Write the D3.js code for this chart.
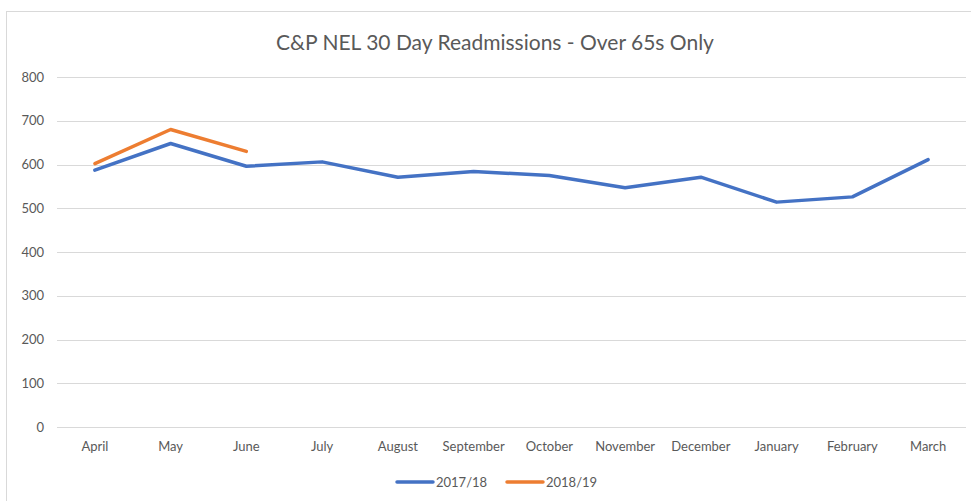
<!DOCTYPE html>
<html>
<head>
<meta charset="utf-8">
<script src="https://cdn.jsdelivr.net/npm/d3@7"></script>
<style>
  body { margin: 0; background: #fff; }
  text { font-family: Lato, "Open Sans", sans-serif; fill: #595959; }
</style>
</head>
<body>
<div id="chart-area"></div>
<script>
var months = ["April", "May", "June", "July", "August", "September", "October",
    "November", "December", "January", "February", "March"];
var series1718 = [587, 648, 596, 606, 571, 584, 575, 547, 571, 514, 526, 611];
var series1819 = [602, 680, 630];
var yTicks = [0, 100, 200, 300, 400, 500, 600, 700, 800];
var seriesNames = ["2017/18", "2018/19"];
var colors = ["#4472C4", "#ED7D31"];

var W = 971, H = 501;
var margin = { left: 57, right: 5, top: 77, bottom: 74 };
var width = W - margin.left - margin.right;
var height = H - margin.top - margin.bottom;

var svg = d3.select("#chart-area")
    .append("svg")
    .attr("width", W)
    .attr("height", H);

// chart border
svg.append("rect")
    .attr("x", 6.5)
    .attr("y", 11.5)
    .attr("width", W)
    .attr("height", H)
    .attr("fill", "none")
    .attr("stroke", "#d9d9d9")
    .attr("stroke-width", 1);

svg.append("text")
    .attr("x", 495)
    .attr("y", 50)
    .attr("text-anchor", "middle")
    .attr("font-size", "21px")
    .text("C&P NEL 30 Day Readmissions - Over 65s Only");

var group = svg.append("g")
    .attr("transform", "translate(" + margin.left + "," + margin.top + ")");

var x = d3.scaleBand()
    .domain(months)
    .range([0, width]);

var y = d3.scaleLinear()
    .domain([0, 800])
    .range([height, 0]);

// gridlines
group.selectAll("line.grid")
    .data(yTicks)
    .enter()
    .append("line")
    .attr("class", "grid")
    .attr("x1", 0)
    .attr("x2", width)
    .attr("y1", d => Math.round(y(d)) + 0.5)
    .attr("y2", d => Math.round(y(d)) + 0.5)
    .attr("stroke", "#d9d9d9")
    .attr("stroke-width", 1);

// y labels
var yAxisCall = d3.axisLeft(y).tickValues(yTicks).tickSize(0).tickPadding(13);
var yAxisGroup = group.append("g").call(yAxisCall);
yAxisGroup.select(".domain").remove();
yAxisGroup.selectAll("text")
    .attr("font-size", "13px")
    .style("font-family", "Lato, 'Open Sans', sans-serif")
    .attr("fill", "#595959");

// x labels
var xAxisCall = d3.axisBottom(x).tickSize(0).tickPadding(15);
var xAxisGroup = group.append("g")
    .attr("transform", "translate(0," + height + ")")
    .call(xAxisCall);
xAxisGroup.select(".domain").remove();
xAxisGroup.selectAll("text")
    .attr("font-size", "13px")
    .style("font-family", "Lato, 'Open Sans', sans-serif")
    .attr("fill", "#595959");

var line = d3.line()
    .x((d, i) => x(months[i]) + x.bandwidth() / 2)
    .y(d => y(d));

[series1718, series1819].forEach(function (s, i) {
    group.append("path")
        .datum(s)
        .attr("d", line)
        .attr("fill", "none")
        .attr("stroke", colors[i])
        .attr("stroke-width", 3.5)
        .attr("stroke-linejoin", "round")
        .attr("stroke-linecap", "round");
});

// legend
var legendX = [397, 507];
var legend = svg.selectAll("g.legend")
    .data(seriesNames)
    .enter()
    .append("g")
    .attr("class", "legend")
    .attr("transform", (d, i) => "translate(" + legendX[i] + ",482)");

legend.append("line")
    .attr("x1", 0)
    .attr("x2", 36)
    .attr("stroke", (d, i) => colors[i])
    .attr("stroke-width", 3.5)
    .attr("stroke-linecap", "round");

legend.append("text")
    .attr("x", 39)
    .attr("y", 5)
    .attr("font-size", "13px")
    .text(d => d);
</script>
</body>
</html>
